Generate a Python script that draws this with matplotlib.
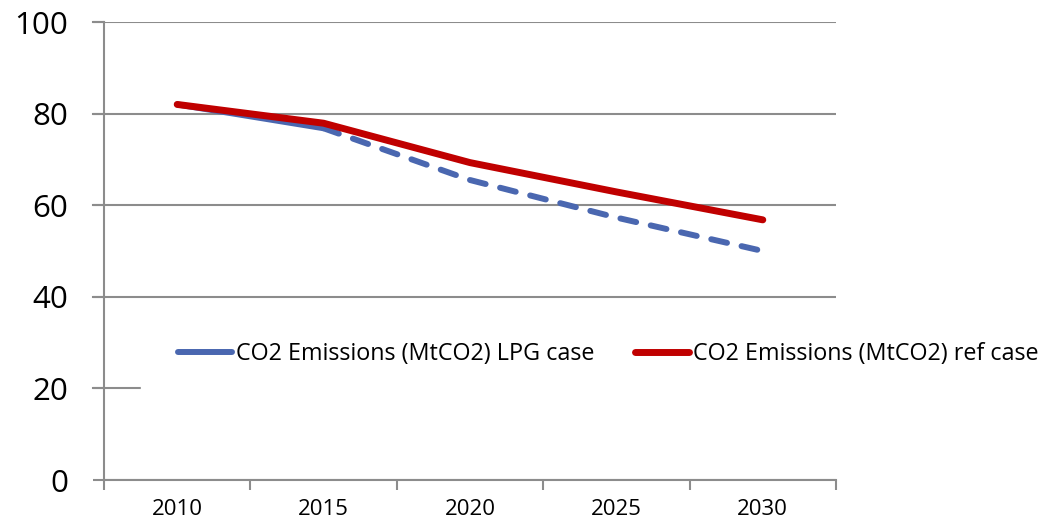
import numpy as np
import matplotlib.pyplot as plt
from matplotlib.lines import Line2D

plt.rcParams['font.family'] = ['Open Sans', 'DejaVu Sans']

years = ['2010', '2015', '2020', '2025', '2030']
lpg_case = [82.0, 76.8, 65.5, 57.3, 50.0]
ref_case = [82.0, 77.9, 69.3, 62.9, 56.8]

blue = '#4A67B0'
red = '#C00000'
grey = '#8C8C8C'

fig = plt.figure(figsize=(10.48, 5.29), dpi=100)
ax = fig.add_axes([104 / 1048, 49 / 529, 732 / 1048, 458 / 529])

x = np.arange(len(years))

# LPG case: first segment solid, the rest dashed
ax.plot(x[:2], lpg_case[:2], color=blue, lw=4.3, solid_capstyle='round', zorder=3)
ax.plot(x[1:], lpg_case[1:], color=blue, lw=4.3, linestyle=(0, (2.7, 2.5)),
        dash_capstyle='round', zorder=3)
ax.plot(x, ref_case, color=red, lw=5, solid_capstyle='round',
        solid_joinstyle='round', zorder=4)

ax.set_xlim(-0.5, len(years) - 0.5)
ax.set_ylim(0, 100)
ax.set_yticks(np.arange(0, 101, 20))
ax.set_xticks(x)
ax.set_xticklabels(years, fontsize=16)
ax.set_xticks(np.arange(-0.5, len(years), 1), minor=True)
ax.tick_params(axis='x', which='major', length=0, pad=14)
ax.tick_params(axis='x', which='minor', length=7, width=1.5, color=grey, direction='out')
ax.tick_params(axis='y', length=8, width=1.5, color=grey, pad=18, labelsize=22.5)

ax.grid(axis='y', color=grey, lw=1.5, zorder=1)
ax.set_axisbelow(True)
for s in ['top', 'right']:
    ax.spines[s].set_visible(False)
for s in ['left', 'bottom']:
    ax.spines[s].set_color(grey)
    ax.spines[s].set_linewidth(1.5)

# gridlines stick out to the left like the ticks
for yv in np.arange(20, 101, 20):
    ax.plot([-0.5 - 11 / 146.4, -0.5], [yv, yv], color=grey, lw=1.5,
            clip_on=False, zorder=1)

handles = [Line2D([], [], color=blue, lw=4.3, solid_capstyle='round'),
           Line2D([], [], color=red, lw=5, solid_capstyle='round')]
labels = ['CO2 Emissions (MtCO2) LPG case', 'CO2 Emissions (MtCO2) ref case']
leg = fig.legend(handles, labels, loc='center left',
                 bbox_to_anchor=(141 / 1048, 1 - 354 / 529), ncol=2,
                 fontsize=16.8, frameon=True, facecolor='white', edgecolor='white',
                 framealpha=1, fancybox=False, handlelength=2.3,
                 handletextpad=0.17, columnspacing=1.75, borderpad=1.6,
                 borderaxespad=0)
leg.set_zorder(10)

fig.savefig('out.png', dpi=100)
